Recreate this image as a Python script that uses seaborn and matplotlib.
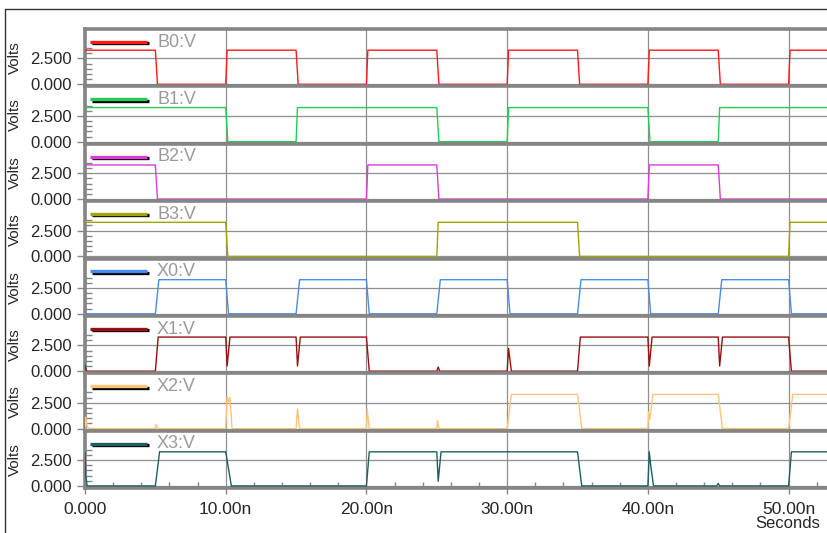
import numpy as np
import pandas as pd
import matplotlib
matplotlib.use("Agg")
import matplotlib.pyplot as plt
from matplotlib.lines import Line2D
from matplotlib.ticker import FixedLocator
import seaborn as sns

# ---------------- data (time in ns, voltage in V) ----------------
signal_names = ["B0:V", "B1:V", "B2:V", "B3:V", "X0:V", "X1:V", "X2:V", "X3:V"]
signal_colors = ["#ff1a1a", "#22cc55", "#d93cd9", "#a3a300",
                 "#4a8ae8", "#990f0f", "#ffc47a", "#1f5f5f"]

B0_t = [0, 5, 5.15, 10, 10.1, 15, 15.15, 20, 20.1, 25, 25.15, 30, 30.1, 35, 35.15, 40, 40.1, 45, 45.15, 50, 50.1, 53]
B0_v = [3.3, 3.3, 0, 0, 3.3, 3.3, 0, 0, 3.3, 3.3, 0, 0, 3.3, 3.3, 0, 0, 3.3, 3.3, 0, 0, 3.3, 3.3]

B1_t = [0, 10, 10.15, 15, 15.1, 25, 25.15, 30, 30.1, 40, 40.15, 45, 45.1, 53]
B1_v = [3.3, 3.3, 0, 0, 3.3, 3.3, 0, 0, 3.3, 3.3, 0, 0, 3.3, 3.3]

B2_t = [0, 5, 5.15, 20, 20.1, 25, 25.15, 40, 40.1, 45, 45.15, 53]
B2_v = [3.3, 3.3, 0, 0, 3.3, 3.3, 0, 0, 3.3, 3.3, 0, 0]

B3_t = [0, 10, 10.15, 25, 25.1, 35, 35.15, 50, 50.1, 53]
B3_v = [3.3, 3.3, 0, 0, 3.3, 3.3, 0, 0, 3.3, 3.3]

X0_t = [0, 5, 5.25, 10, 10.2, 15, 15.25, 20, 20.2, 25, 25.25, 30, 30.2, 35, 35.25, 40, 40.2, 45, 45.25, 50, 50.2, 53]
X0_v = [0, 0, 3.3, 3.3, 0, 0, 3.3, 3.3, 0, 0, 3.3, 3.3, 0, 0, 3.3, 3.3, 0, 0, 3.3, 3.3, 0, 0]

X1_t = [0, 0.05, 0.12, 5, 5.2, 10.0, 10.1, 10.3, 15.0, 15.1, 15.3, 20, 20.2, 25.0, 25.1, 25.2,
        30.0, 30.1, 30.3, 35, 35.2, 40.0, 40.1, 40.3, 45.0, 45.1, 45.3, 50, 50.2, 53]
X1_v = [0.6, 0.3, 0, 0, 3.3, 3.3, 0.5, 3.3, 3.3, 0.5, 3.3, 3.3, 0, 0, 0.4, 0,
        0, 2.2, 0, 0, 3.3, 3.3, 0.5, 3.3, 3.3, 0.5, 3.3, 3.3, 0, 0]

X2_t = [0, 0.05, 0.15, 0.3, 5.0, 5.05, 5.15, 10.0, 10.1, 10.2, 10.3, 10.45, 15.0, 15.1, 15.25,
        20.0, 20.05, 20.2, 25.0, 25.05, 25.15, 30.0, 30.3, 35.0, 35.3, 40.0, 40.05, 40.15, 40.35,
        45.0, 45.3, 50.0, 50.3, 53]
X2_v = [0, 1.1, 0.2, 0, 0, 0.4, 0, 0, 3.1, 2.6, 3.0, 0, 0, 1.9, 0,
        0, 1.9, 0, 0, 0.8, 0, 0, 3.3, 3.3, 0, 0, 1.6, 0.9, 3.3,
        3.3, 0, 0, 3.3, 3.3]

X3_t = [0, 0.05, 0.15, 5.0, 5.3, 10.0, 10.4, 20.0, 20.2, 25.0, 25.1, 25.3, 35.0, 35.3,
        40.0, 40.1, 40.2, 40.4, 44.9, 45.0, 45.1, 50.0, 50.2, 53]
X3_v = [3.3, 1.0, 0, 0, 3.3, 3.3, 0, 0, 3.3, 3.3, 0.45, 3.3, 3.3, 0,
        0, 3.3, 2.0, 0, 0, 0.25, 0, 0, 3.3, 3.3]

signal_t = [B0_t, B1_t, B2_t, B3_t, X0_t, X1_t, X2_t, X3_t]
signal_v = [B0_v, B1_v, B2_v, B3_v, X0_v, X1_v, X2_v, X3_v]

y_ticks = [0, 2.5]
y_tick_labels = ["0.000", "2.500"]
x_ticks = [0, 10, 20, 30, 40, 50]
x_tick_labels = ["0.000", "10.00n", "20.00n", "30.00n", "40.00n", "50.00n"]

# ---------------- style ----------------
sns.set_style("white")
plt.rcParams['font.family'] = ['Liberation Sans', 'DejaVu Sans']

W, H = 828, 533
fig = plt.figure(figsize=(W / 100, H / 100), dpi=100)
gs = fig.add_gridspec(8, 1, left=85 / W, right=1.0, top=1 - 29 / H, bottom=1 - 488 / H, hspace=0)
axes = [fig.add_subplot(gs[i]) for i in range(8)]

GRAY = "#858585"
for i, ax in enumerate(axes):
    df = pd.DataFrame({"t": signal_t[i], "v": signal_v[i]})
    sns.lineplot(data=df, x="t", y="v", ax=ax, color=signal_colors[i], lw=1.0,
                 estimator=None, sort=False, zorder=3)
    ax.set_xlim(0, 52.8)
    ax.set_ylim(-0.2, 5.35)
    ax.set_yticks(y_ticks)
    ax.set_yticklabels(y_tick_labels)
    ax.yaxis.set_minor_locator(FixedLocator([0.5, 1.0, 1.5, 2.0, 3.0, 3.5]))
    ax.tick_params(axis='y', which='major', direction='out', length=6, width=1,
                   color=GRAY, labelsize=12, pad=3.5, left=True)
    ax.tick_params(axis='y', which='minor', direction='in', length=5, width=1,
                   color=GRAY, left=True)
    ax.set_xticks(x_ticks)
    ax.grid(True, which='major', axis='both', color="#8f8f8f", lw=0.9, zorder=1)
    ax.set_xlabel("")
    ax.set_ylabel("Volts", fontsize=11)
    ax.yaxis.set_label_coords(-0.085, 0.5)
    for side in ["top", "bottom", "left"]:
        ax.spines[side].set_visible(True)
        ax.spines[side].set_color(GRAY)
        ax.spines[side].set_linewidth(2.6)
    ax.spines["right"].set_visible(False)

    # legend-like sample line and label
    ax.add_line(Line2D([0.0094, 0.086], [0.75, 0.75], transform=ax.transAxes,
                       color="black", lw=2.4, solid_capstyle="butt", clip_on=False, zorder=5))
    ax.add_line(Line2D([0.0067, 0.0834], [0.775, 0.775], transform=ax.transAxes,
                       color=signal_colors[i], lw=2.4, solid_capstyle="butt", clip_on=False, zorder=6))
    ax.text(0.097, 0.77, signal_names[i], transform=ax.transAxes, va="center", ha="left",
            fontsize=13, color="#9a9a9a", zorder=6)

    if i < 7:
        ax.tick_params(axis='x', which='both', bottom=False, labelbottom=False, length=0)
    else:
        ax.set_xticklabels(x_tick_labels)
        ax.xaxis.set_minor_locator(FixedLocator([2, 4, 6, 8, 12, 14, 16, 18, 22, 24, 26, 28,
                                                 32, 34, 36, 38, 42, 44, 46, 48, 52]))
        ax.tick_params(axis='x', which='major', direction='out', length=4, width=1,
                       color=GRAY, labelsize=12.5, pad=6, bottom=True)
        ax.tick_params(axis='x', which='minor', direction='in', length=4, width=1,
                       color=GRAY, bottom=True)

fig.text(788 / W, 1 - 524 / H, "Seconds", ha="center", va="center", fontsize=12)

# outer frame lines
fig.add_artist(Line2D([5 / W, 5 / W], [0, 1 - 9 / H], transform=fig.transFigure, color="#333333", lw=1))
fig.add_artist(Line2D([5 / W, 1], [1 - 9 / H, 1 - 9 / H], transform=fig.transFigure, color="#333333", lw=1))

fig.savefig("out.png", dpi=100)
